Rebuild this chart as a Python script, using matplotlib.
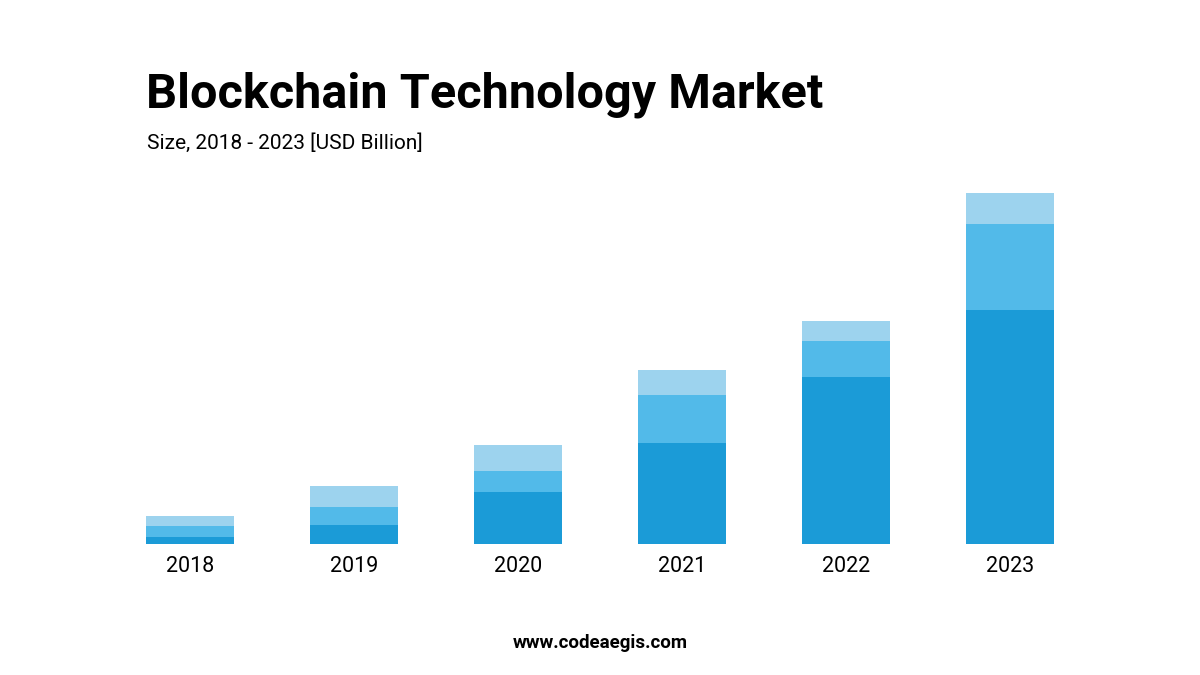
import matplotlib
matplotlib.use("Agg")
import matplotlib.pyplot as plt

years = ["2018", "2019", "2020", "2021", "2022", "2023"]
seg_bottom = [7, 19, 52, 101, 167, 234]
seg_middle = [11, 18, 21, 48, 36, 86]
seg_top = [10, 21, 26, 25, 20, 31]
colors = ["#1b9bd7", "#52bae9", "#9dd3ee"]

fig = plt.figure(figsize=(12, 6.75), dpi=100)
fig.patch.set_facecolor("white")
ax = fig.add_axes([108/1200, 131/675, 984/1200, 354/675])
x = range(len(years))
w = 88/164
ax.bar(x, seg_bottom, width=w, color=colors[0])
b2 = seg_bottom
ax.bar(x, seg_middle, width=w, bottom=b2, color=colors[1])
b3 = [a + b for a, b in zip(seg_bottom, seg_middle)]
ax.bar(x, seg_top, width=w, bottom=b3, color=colors[2])
ax.set_xlim(-0.5, 5.5)
ax.set_ylim(0, 354)
ax.set_xticks(list(x))
ax.set_xticklabels(years, fontsize=15.5, fontfamily="Roboto")
ax.tick_params(axis="x", length=0, pad=9)
ax.set_yticks([])
for s in ax.spines.values():
    s.set_visible(False)

fig.text(146/1200, 1 - 108/675, "Blockchain Technology Market", fontsize=35,
         fontweight="bold", fontfamily="Roboto", va="baseline")
fig.text(147/1200, 1 - 149/675, "Size, 2018 - 2023 [USD Billion]", fontsize=15,
         fontfamily="Roboto", va="baseline")
fig.text(0.5, 1 - 643/675, "www.codeaegis.com", fontsize=13.5, fontweight="bold",
         fontfamily="Roboto", ha="center", va="center")
fig.savefig("out.png", dpi=100)
